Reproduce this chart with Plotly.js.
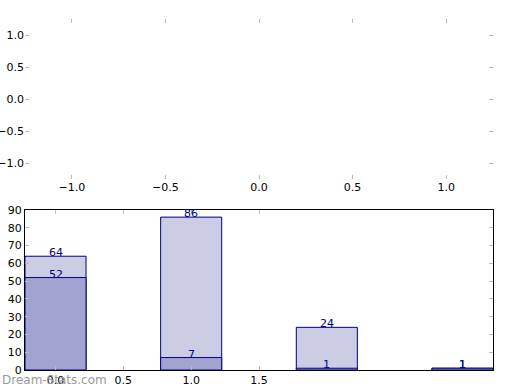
<!DOCTYPE html>
<html>
<head>
<meta charset="utf-8">
<script src="https://cdn.plot.ly/plotly-3.0.1.min.js"></script>
<style>html,body{margin:0;padding:0;background:#fff;}</style>
</head>
<body>
<div id="chart" style="width:520px;height:390px;"></div>
<script>
const positions = [0, 1, 2, 3];
const lightValues = [64, 86, 24, 1];
const darkValues = [52, 7, 1, 1];
const xTicks = [0.0, 0.5, 1.0, 1.5];
const xTickLabels = ['0.0', '0.5', '1.0', '1.5'];
const yTicks = [0, 10, 20, 30, 40, 50, 60, 70, 80, 90];
const topTicks = [-1.0, -0.5, 0.0, 0.5, 1.0];
const topTickLabels = ['\u22121.0', '\u22120.5', '0.0', '0.5', '1.0'];

const navy = '#000080';
const tickFont = {family: 'DejaVu Sans', size: 11, color: '#000'};

const traces = [
  {type: 'scatter', x: [], y: [], xaxis: 'x', yaxis: 'y', showlegend: false, hoverinfo: 'skip'},
  {type: 'bar', x: positions, y: lightValues, width: 0.45, xaxis: 'x2', yaxis: 'y2',
   marker: {color: '#ccccE5', line: {color: navy, width: 1}}, showlegend: false},
  {type: 'bar', x: positions, y: darkValues, width: 0.45, xaxis: 'x2', yaxis: 'y2',
   marker: {color: '#a3a3d1', line: {color: navy, width: 1}}, showlegend: false}
];

const annotations = [];
[lightValues, darkValues].forEach(vals => {
  vals.forEach((v, i) => {
    annotations.push({x: positions[i], y: v, xref: 'x2', yref: 'y2', text: String(v),
      showarrow: false, yanchor: 'bottom', yshift: -5,
      font: {family: 'DejaVu Sans', size: 11, color: navy}});
  });
});
annotations.push({x: 0, y: 380, xref: 'paper', yref: 'paper', text: 'Dream-Stats.com',
  showarrow: false, xanchor: 'left', yanchor: 'middle',
  font: {family: 'DejaVu Sans', size: 12, color: '#999999'}});
annotations[annotations.length - 1].y = 1 - 380 / 390;

const commonTop = {showgrid: false, zeroline: false, showline: false, ticks: 'inside',
  ticklen: 4, tickwidth: 1, tickcolor: '#bbbbbb', mirror: 'ticks', tickfont: tickFont};
const commonBot = {showgrid: false, zeroline: false, showline: true, linecolor: '#000', linewidth: 1,
  ticks: 'inside', ticklen: 4, tickwidth: 1, tickcolor: '#bbbbbb', mirror: 'allticks', tickfont: tickFont};

const layout = {
  width: 520, height: 390,
  margin: {l: 0, r: 0, t: 0, b: 0},
  paper_bgcolor: '#fff', plot_bgcolor: '#fff',
  barmode: 'overlay',
  bargap: 0,
  xaxis: Object.assign({}, commonTop, {domain: [25/520, 493/520], range: [-1.25, 1.25],
    tickvals: topTicks, ticktext: topTickLabels, anchor: 'y'}),
  yaxis: Object.assign({}, commonTop, {domain: [1 - 179/390, 1 - 19/390], range: [-1.25, 1.25],
    tickvals: topTicks, ticktext: topTickLabels, anchor: 'x'}),
  xaxis2: Object.assign({}, commonBot, {domain: [25/520, 493/520], range: [-0.225, 3.225],
    tickvals: xTicks, ticktext: xTickLabels, anchor: 'y2'}),
  yaxis2: Object.assign({}, commonBot, {domain: [1 - 370/390, 1 - 210/390], range: [0, 90],
    tickvals: yTicks, anchor: 'x2'}),
  annotations: annotations
};

Plotly.newPlot('chart', traces, layout, {staticPlot: true, displayModeBar: false});
</script>
</body>
</html>
